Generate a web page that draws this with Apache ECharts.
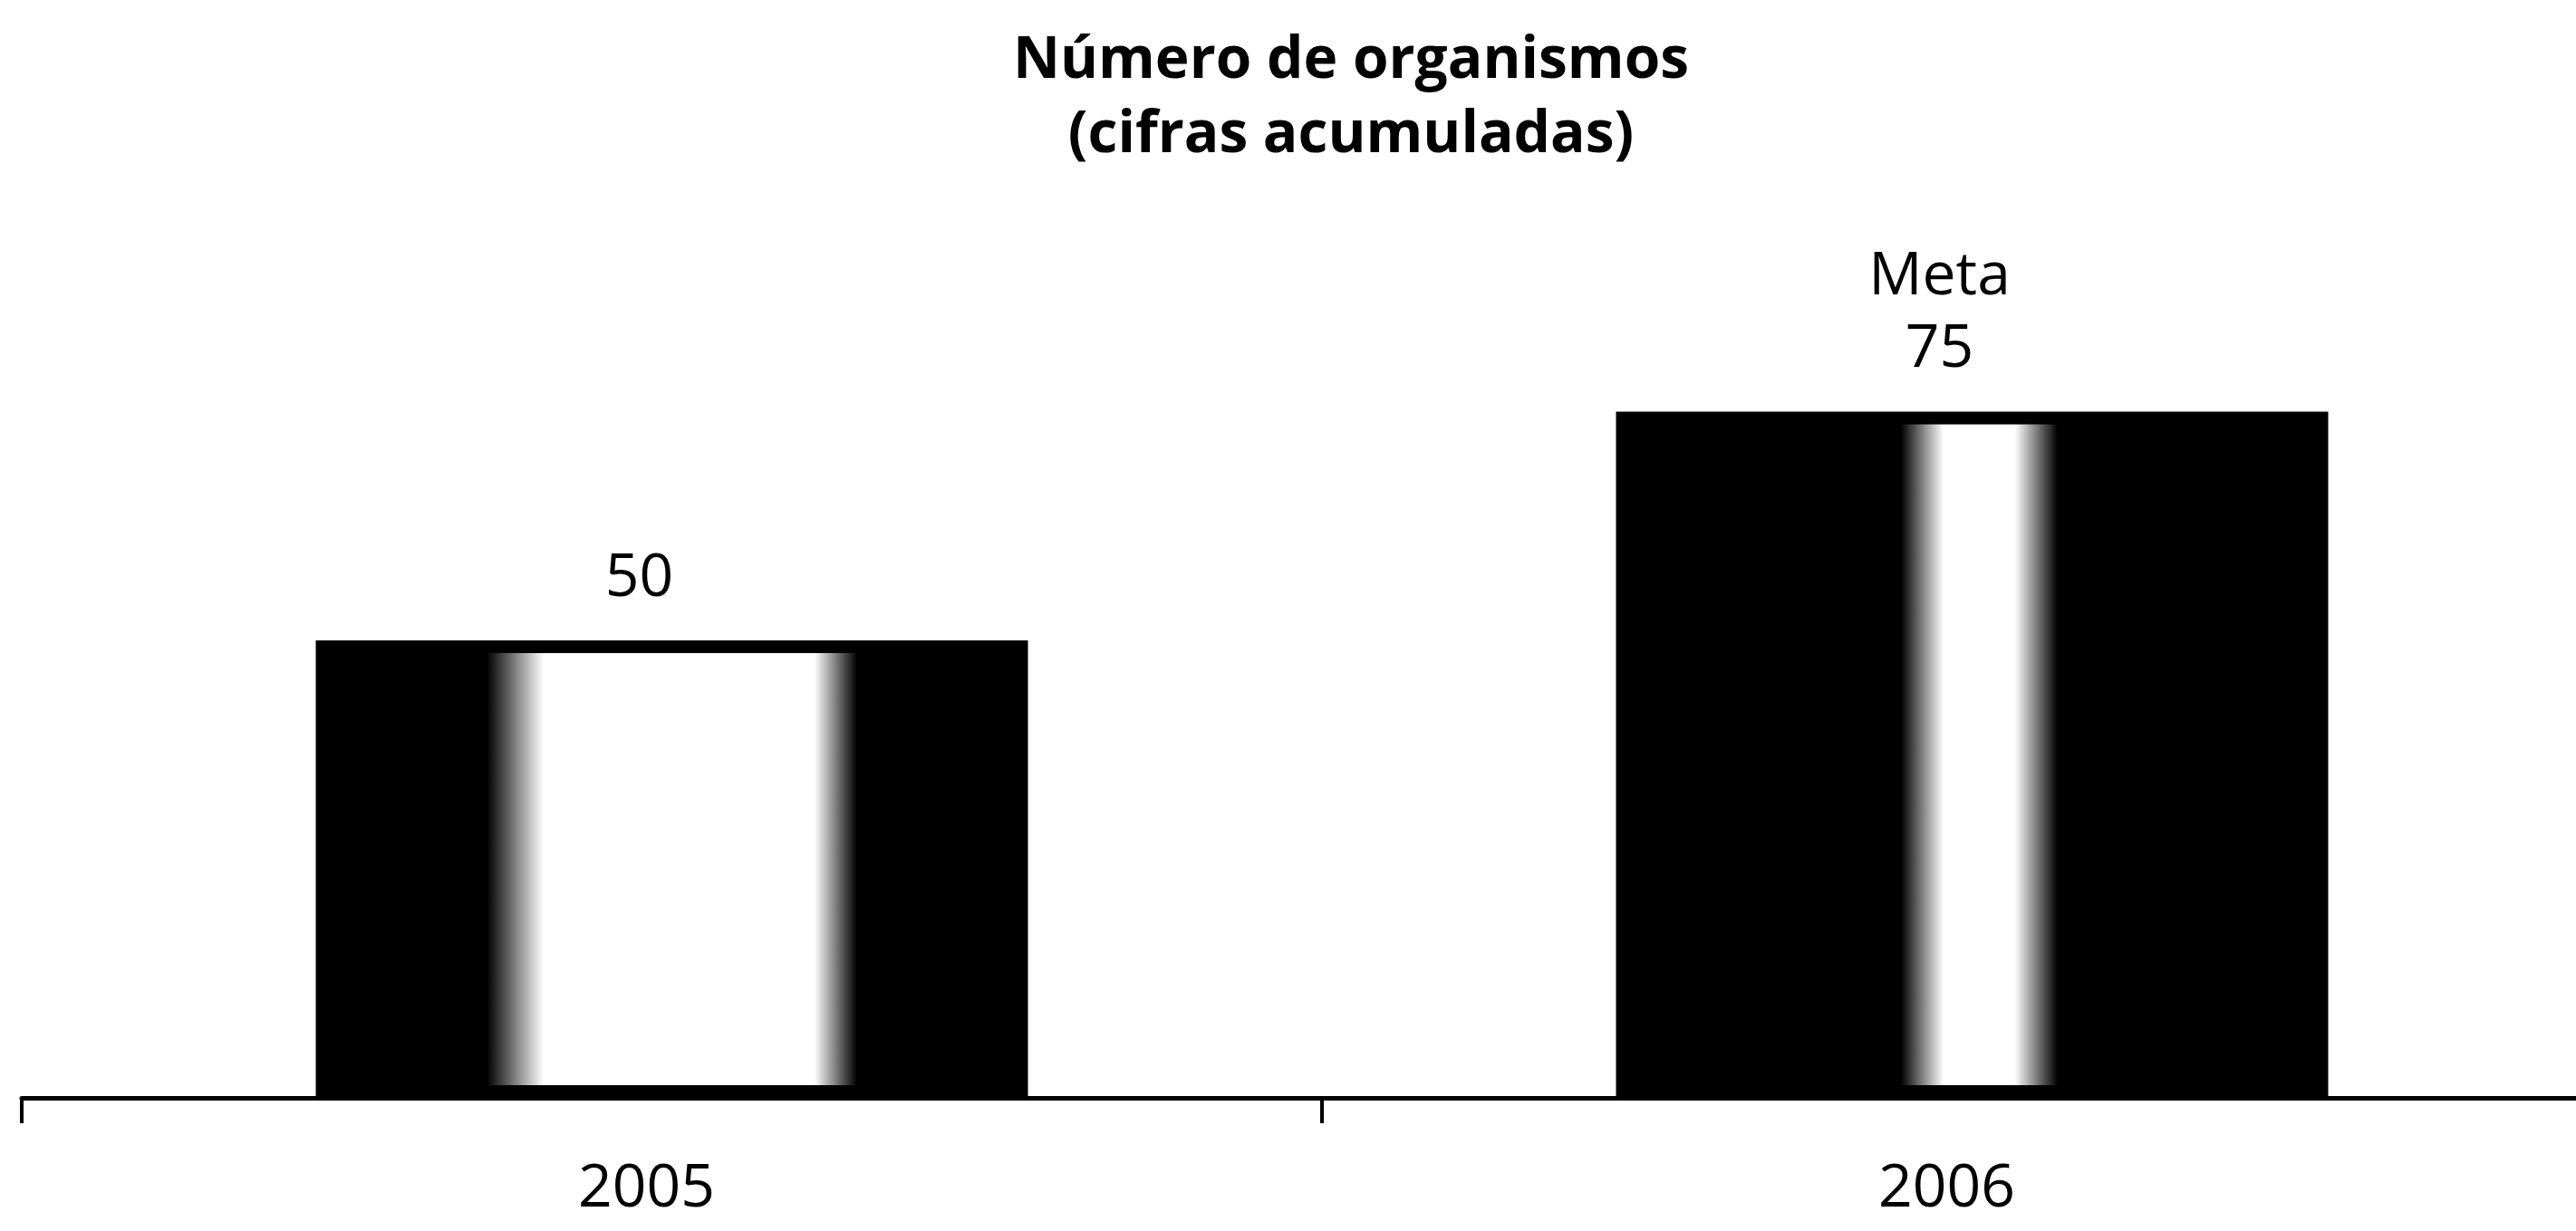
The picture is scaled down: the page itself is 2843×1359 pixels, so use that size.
<!DOCTYPE html>
<html>
<head>
<meta charset="utf-8">
<script src="https://cdn.jsdelivr.net/npm/echarts@6/dist/echarts.min.js"></script>
<style>
  html, body { margin: 0; padding: 0; background: #fff; }
  #chart { width: 2843px; height: 1359px; }
</style>
</head>
<body>
<div id="chart"></div>
<script>
// ---- data ----
const titleLines = ['Número de organismos', '(cifras acumuladas)'];
const categories = ['2005', '2006'];
const values = [50, 75];
const valueLabels = ['50', 'Meta\n75'];

// ---- styles (kept separate from data) ----
const gradients = [
  [[0, '#000'], [0.24, '#000'], [0.32, '#fff'], [0.70, '#fff'], [0.76, '#000'], [1, '#000']],
  [[0, '#000'], [0.40, '#000'], [0.46, '#fff'], [0.56, '#fff'], [0.62, '#000'], [1, '#000']]
];
const labelFont = '"Open Sans", sans-serif';

const chart = echarts.init(document.getElementById('chart'));
chart.setOption({
  animation: false,
  backgroundColor: '#ffffff',
  title: {
    text: titleLines.join('\n'),
    left: 1486,
    textAlign: 'center',
    top: 22,
    textStyle: {
      fontFamily: '"Open Sans", sans-serif',
      fontWeight: 'bold',
      fontSize: 64,
      lineHeight: 82,
      color: '#000'
    }
  },
  grid: { left: 24, right: -51, top: 202, bottom: 147, containLabel: false, outerBoundsMode: 'none' },
  xAxis: {
    type: 'category',
    data: categories,
    boundaryGap: true,
    axisLine: { show: true, lineStyle: { color: '#000', width: 5 } },
    axisTick: { show: true, length: 28, lineStyle: { color: '#000', width: 4 } },
    axisLabel: {
      color: '#000',
      fontFamily: labelFont,
      fontSize: 66,
      lineHeight: 80,
      margin: 61,
      padding: [0, 56, 0, 0]
    },
    splitLine: { show: false }
  },
  yAxis: { type: 'value', min: 0, max: 100, show: false },
  series: [{
    type: 'bar',
    barWidth: 786,
    data: values.map((v, i) => ({
      value: v,
      label: { formatter: valueLabels[i] },
      itemStyle: {
        color: {
          type: 'linear', x: 0, y: 0, x2: 1, y2: 0,
          colorStops: gradients[i].map(s => ({ offset: s[0], color: s[1] }))
        },
        borderColor: '#000',
        borderWidth: 14
      }
    })),
    label: {
      show: true,
      position: 'top',
      distance: 28,
      offset: [-36, 0],
      color: '#000',
      fontFamily: labelFont,
      fontSize: 66,
      lineHeight: 80,
      align: 'center'
    }
  }]
});
</script>
</body>
</html>
